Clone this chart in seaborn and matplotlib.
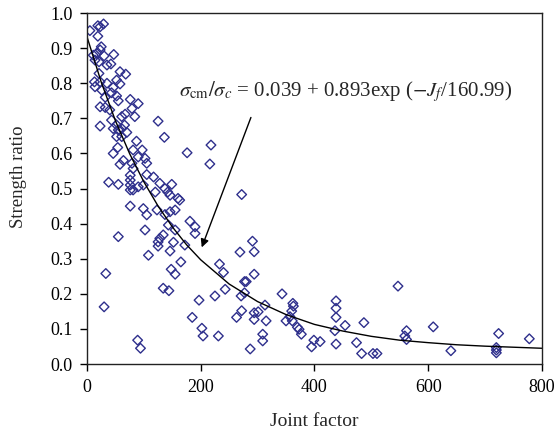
import numpy as np
import pandas as pd
import matplotlib
matplotlib.use('Agg')
import matplotlib.pyplot as plt
import seaborn as sns

# dati: fattore di giunto vs rapporto di resistenza
joint_factor = [
    5, 19, 29, 23, 19, 25, 11, 17, 23, 30, 47, 14, 21, 35, 42, 21, 58, 68, 13, 23,
    35, 52, 58, 14, 26, 46, 32, 43, 52, 55, 76, 90, 23, 32, 40, 79, 67, 84, 61, 43,
    125, 23, 52, 66,
    46, 55, 61, 52, 61, 70, 87, 136, 54, 46, 64, 58, 81, 90, 97, 102, 105, 79, 81, 76,
    76, 76, 76, 81, 38, 55, 90, 99, 105, 117, 120, 128, 137, 149, 142, 146, 160, 76, 99, 105,
    123, 137, 146, 155, 143, 155, 102, 55, 134, 128, 125, 152,
    176, 218, 216, 272, 163, 181, 190, 190, 291, 172,
    125, 146, 108, 269, 33, 148, 155, 165, 233, 240, 134, 144, 243, 197, 225, 271, 277, 30,
    185, 263, 272, 202, 204, 231, 89, 94,
    294, 294, 280, 277, 343, 362, 363, 360, 313, 301, 294, 294, 315, 357, 361, 350, 370, 373,
    377, 309, 309, 287, 399, 410, 395, 438, 438, 438, 436, 454, 438, 474, 487, 483, 503, 510,
    547,
    562, 559, 562, 609, 640, 724, 720, 720, 720, 778,
]
strength_ratio = [
    0.95, 0.964, 0.969, 0.961, 0.934, 0.904, 0.88, 0.885, 0.895, 0.878, 0.882, 0.866, 0.861, 0.852, 0.855, 0.828, 0.833, 0.826, 0.804, 0.804,
    0.80, 0.809, 0.798, 0.79, 0.78, 0.788, 0.76, 0.773, 0.764, 0.75, 0.754, 0.742, 0.733, 0.731, 0.724, 0.728, 0.712, 0.705, 0.705, 0.695,
    0.692, 0.678, 0.681, 0.681,
    0.671, 0.667, 0.671, 0.648, 0.648, 0.66, 0.635, 0.646, 0.617, 0.60, 0.58, 0.569, 0.61, 0.59, 0.61, 0.586, 0.572, 0.572, 0.557, 0.538,
    0.524, 0.51, 0.496, 0.496, 0.518, 0.512, 0.505, 0.51, 0.54, 0.533, 0.49, 0.515, 0.50, 0.512, 0.49, 0.481, 0.472, 0.45, 0.443, 0.425,
    0.439, 0.426, 0.434, 0.439, 0.396, 0.382, 0.382, 0.363, 0.368, 0.358, 0.348, 0.347,
    0.602, 0.624, 0.57, 0.483, 0.467, 0.407, 0.391, 0.372, 0.35, 0.339,
    0.336, 0.322, 0.31, 0.319, 0.258, 0.27, 0.256, 0.291, 0.285, 0.261, 0.216, 0.209, 0.213, 0.182, 0.194, 0.194, 0.235, 0.163,
    0.133, 0.133, 0.152, 0.102, 0.08, 0.08, 0.068, 0.045,
    0.32, 0.256, 0.235, 0.203, 0.20, 0.173, 0.165, 0.151, 0.168, 0.149, 0.146, 0.127, 0.123, 0.135, 0.123, 0.123, 0.105, 0.099,
    0.085, 0.085, 0.066, 0.043, 0.068, 0.064, 0.049, 0.18, 0.159, 0.133, 0.095, 0.11, 0.057, 0.061, 0.118, 0.03, 0.03, 0.03,
    0.222,
    0.095, 0.08, 0.07, 0.106, 0.038, 0.087, 0.047, 0.04, 0.032, 0.072,
]

# curva di regressione
fit_x = [0, 25, 50, 75, 100, 125, 150, 175, 200, 250, 300, 350, 400, 450, 500, 550, 600, 650, 700, 750, 800]
fit_y = [0.932, 0.803, 0.693, 0.599, 0.519, 0.450, 0.391, 0.340, 0.297, 0.228, 0.178, 0.141, 0.113, 0.094,
         0.079, 0.068, 0.061, 0.055, 0.051, 0.048, 0.045]

df = pd.DataFrame({'Joint factor': joint_factor, 'Strength ratio': strength_ratio})
df_fit = pd.DataFrame({'x': fit_x, 'y': fit_y})

sns.set_style('ticks')
plt.rcParams['font.family'] = ['Liberation Serif', 'DejaVu Serif']
plt.rcParams['mathtext.fontset'] = 'stix'

fig = plt.figure(figsize=(5.58, 4.36), dpi=100)
ax = fig.add_axes([0.156, 0.165, 0.815, 0.805])

sns.scatterplot(data=df, x='Joint factor', y='Strength ratio', marker='D', s=24,
                facecolor='none', edgecolor='#2E2F8C', linewidth=1.0, ax=ax)
sns.lineplot(data=df_fit, x='x', y='y', color='black', linewidth=1.0, ax=ax)

# freccia e equazione
ax.annotate('', xy=(200, 0.325), xytext=(290, 0.71),
            arrowprops=dict(arrowstyle='-|>', color='black', lw=1.0, mutation_scale=12))
ax.text(454, 0.777,
        r'$\sigma_{\rm cm}/\sigma_c$ = 0.039 + 0.893exp ($-J_f$/160.99)',
        ha='center', va='center', fontsize=15)

ax.set_xlim(0, 800)
ax.set_ylim(0, 1.0)
ax.set_xticks(range(0, 801, 200))
ax.set_yticks(np.arange(0, 1.01, 0.1))
ax.yaxis.set_major_formatter(matplotlib.ticker.FormatStrFormatter('%.1f'))
ax.tick_params(direction='out', length=5, width=1, labelsize=13, colors='black', pad=5.5)
for s in ax.spines.values():
    s.set_linewidth(1.0)
    s.set_color('#222222')
ax.set_xlabel('Joint factor', fontsize=14, va='top')
ax.set_ylabel('Strength ratio', fontsize=13.5)
ax.xaxis.set_label_coords(0.5, -0.14)
ax.yaxis.set_label_coords(-0.132, 0.535)

fig.savefig('out.png', dpi=100)
